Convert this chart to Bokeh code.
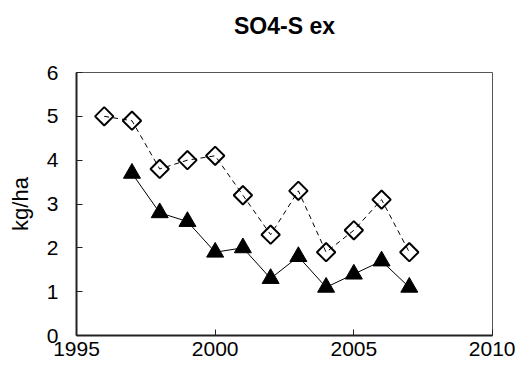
import math
from bokeh.plotting import figure
from bokeh.models import Range1d, FixedTicker, Title
from bokeh.embed import file_html
from bokeh.resources import INLINE

# Data
years_diamond = [1996, 1997, 1998, 1999, 2000, 2001, 2002, 2003, 2004, 2005, 2006, 2007]
values_diamond = [5.0, 4.9, 3.8, 4.0, 4.1, 3.2, 2.3, 3.3, 1.9, 2.4, 3.1, 1.9]

years_triangle = [1997, 1998, 1999, 2000, 2001, 2002, 2003, 2004, 2005, 2006, 2007]
values_triangle = [3.7, 2.8, 2.6, 1.9, 2.0, 1.3, 1.8, 1.1, 1.4, 1.7, 1.1]

x_ticks = [1995, 2000, 2005, 2010]
y_ticks = [0, 1, 2, 3, 4, 5, 6]

FONT = "Liberation Sans"

p = figure(
    width=515, height=363,
    x_range=Range1d(1995, 2010), y_range=Range1d(0, 6),
    output_backend="svg", toolbar_location=None,
    title="SO4-S ex",
    min_border_left=76, min_border_right=23,
    min_border_top=72, min_border_bottom=28,
)

p.title.align = "center"
p.title.text_font = FONT
p.title.text_font_size = "23px"
p.title.text_font_style = "bold"
p.title.text_color = "#000000"
p.title.standoff = 16

xa = p.below[0]
ya = p.left[0]

p.xgrid.visible = False
p.ygrid.visible = False
p.outline_line_color = "#555555"
p.outline_line_width = 1
p.background_fill_color = "white"
p.border_fill_color = "white"

for ax in (xa, ya):
    ax.axis_line_color = "#222222"
    ax.axis_line_width = 2
    ax.major_tick_in = 6
    ax.major_tick_out = 0
    ax.minor_tick_line_color = None
    ax.major_tick_line_color = "#222222"
    ax.major_label_text_font = FONT
    ax.major_label_text_font_size = "21px"
    ax.major_label_text_color = "#000000"

xa.ticker = FixedTicker(ticks=x_ticks)
ya.ticker = FixedTicker(ticks=y_ticks)
xa.major_label_standoff = 6
ya.major_label_standoff = 18

ya.axis_label = "kg/ha"
ya.axis_label_text_font = FONT
ya.axis_label_text_font_size = "22px"
ya.axis_label_text_font_style = "normal"
ya.axis_label_text_color = "#000000"
ya.axis_label_standoff = 11

# blank spacer between the title and the plot frame
spacer = Title(text=" ", text_font=FONT, text_font_size="10px",
               text_color="white", standoff=13)
p.add_layout(spacer, "above")

# dashed series with hollow diamonds
p.line(years_diamond, values_diamond, line_color="black", line_width=1, line_dash="5 4")
p.scatter(years_diamond, values_diamond, marker="square", angle=math.pi / 4, size=13,
          fill_alpha=0, line_color="black", line_width=2)

# solid series with filled triangles
p.line(years_triangle, values_triangle, line_color="black", line_width=1)
p.scatter(years_triangle, values_triangle, marker="triangle", size=17,
          fill_color="black", line_color="black")

open("out.html", "w").write(file_html(p, INLINE))
